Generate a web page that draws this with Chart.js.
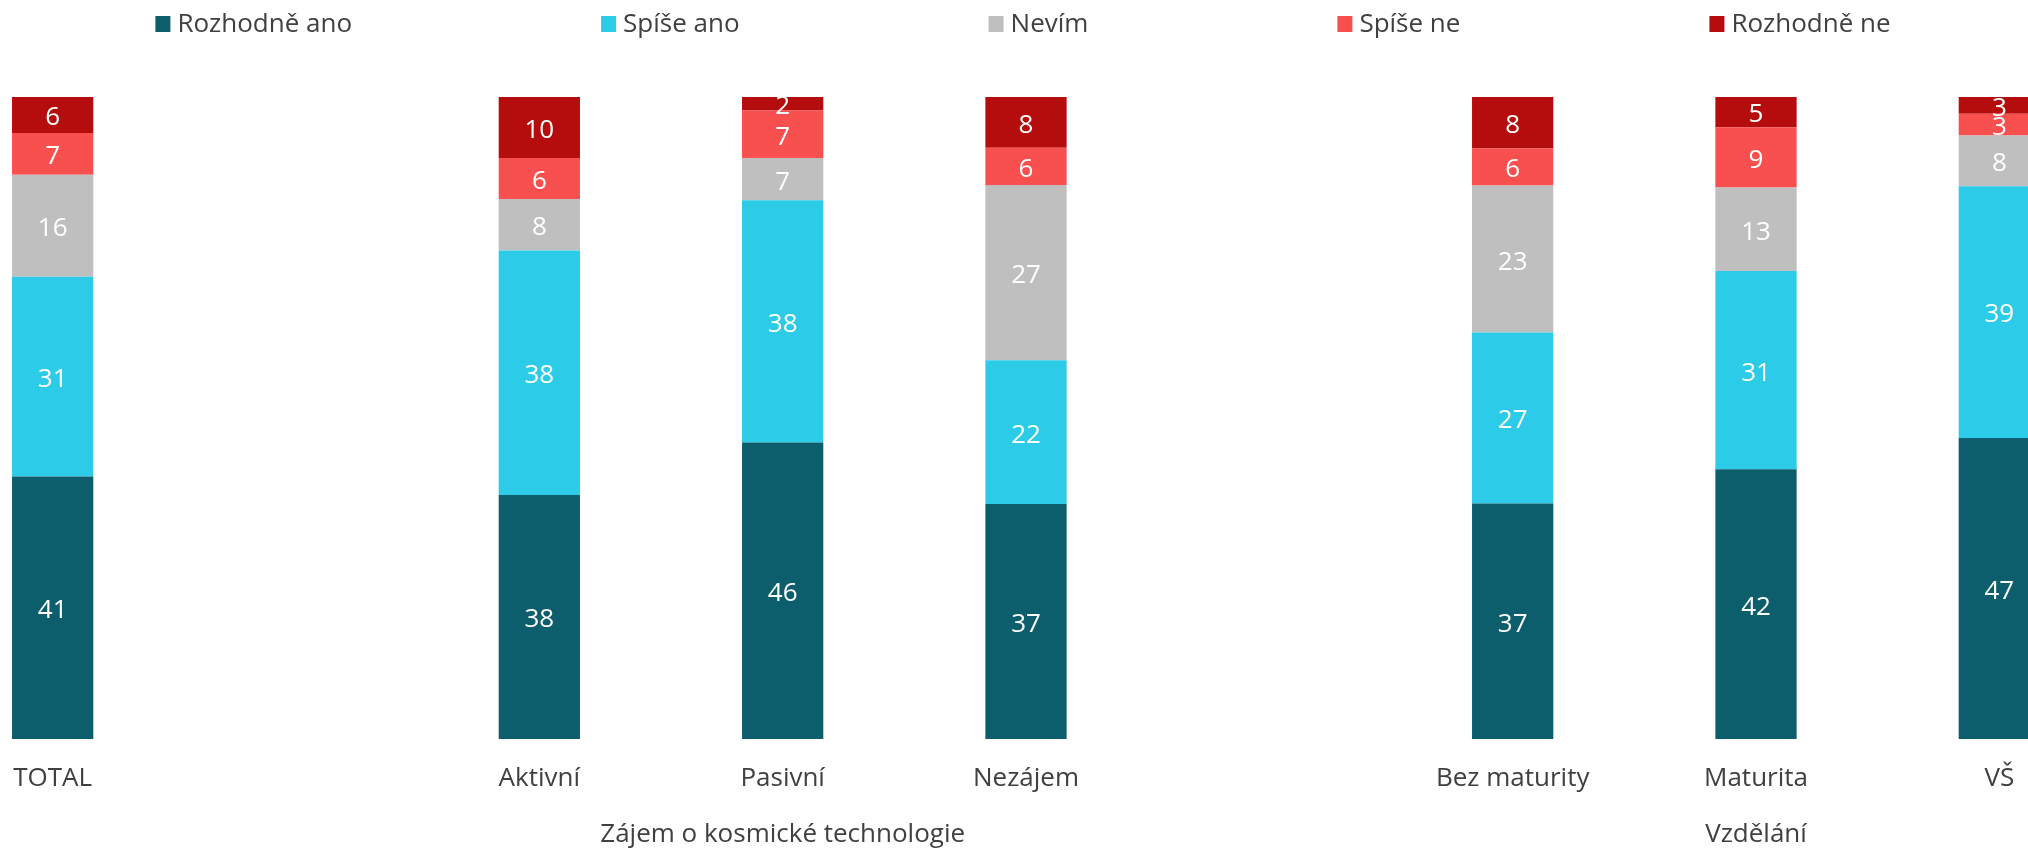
<!DOCTYPE html>
<html><head><meta charset="utf-8">
<script src="https://cdn.jsdelivr.net/npm/chart.js@4.4.1/dist/chart.umd.min.js"></script>
<style>
html,body{margin:0;padding:0;background:#fff;overflow:hidden;width:2028px;height:850px;position:relative}
#wrap{position:absolute;left:-69px;top:0;width:2190px;height:850px}
</style>
</head><body><div id="wrap"><canvas id="c"></canvas></div>
<script>
// ---- data ----
const categories = ['TOTAL', '', 'Aktivní', 'Pasivní', 'Nezájem', '', 'Bez maturity', 'Maturita', 'VŠ'];
const groupTitles = ['', '', '', 'Zájem o kosmické technologie', '', '', '', 'Vzdělání', ''];
const seriesNames = ['Rozhodně ano', 'Spíše ano', 'Nevím', 'Spíše ne', 'Rozhodně ne'];
const rozhodneAno = [40.9, null, 38.0, 46.2, 36.6, null, 36.7, 42.0, 46.9];
const spiseAno    = [31.1, null, 38.1, 37.7, 22.4, null, 26.6, 30.9, 39.2];
const nevim       = [15.9, null,  8.0,  6.6, 27.3, null, 22.9, 13.0,  7.9];
const spiseNe     = [ 6.5, null,  6.4,  7.4,  5.8, null,  5.8,  9.4,  3.4];
const rozhodneNe  = [ 5.6, null,  9.5,  2.1,  7.9, null,  8.0,  4.7,  2.6];
const seriesColors = ['#0C5E6D', '#2CCCE8', '#BFBFBF', '#F84F4F', '#B50D0D'];

const FONT = "'Open Sans', 'Noto Sans', sans-serif";
const TEXT = '#404040';
Chart.defaults.font.family = FONT;

const xLabels = categories.map((c, i) => groupTitles[i] ? [c, '', groupTitles[i]] : c);
const seriesData = [rozhodneAno, spiseAno, nevim, spiseNe, rozhodneNe];

const valueLabels = {
  id: 'valueLabels',
  afterDatasetsDraw(chart) {
    const ctx = chart.ctx;
    ctx.save();
    ctx.font = `26px ${FONT}`;
    ctx.fillStyle = '#FFFFFF';
    ctx.textAlign = 'center';
    ctx.textBaseline = 'middle';
    chart.data.datasets.forEach((ds, i) => {
      const meta = chart.getDatasetMeta(i);
      meta.data.forEach((el, j) => {
        const v = ds.data[j];
        if (v == null) return;
        const p = el.getProps(['x', 'y', 'base'], true);
        ctx.fillText(String(Math.round(v)), p.x, (p.y + p.base) / 2 + 3);
      });
    });
    ctx.restore();
  }
};

const topLegend = {
  id: 'topLegend',
  afterDraw(chart) {
    const ctx = chart.ctx;
    ctx.save();
    ctx.font = `26px ${FONT}`;
    ctx.textBaseline = 'middle';
    ctx.textAlign = 'left';
    const box = 15, gapText = 7, gapItem = 249;
    const items = chart.data.datasets.map(ds => ({label: ds.label, color: ds.backgroundColor, w: box + gapText + ctx.measureText(ds.label).width}));
    const total = items.reduce((s, it) => s + it.w, 0) + gapItem * (items.length - 1);
    const cx = (chart.chartArea.left + chart.chartArea.right) / 2 - 3;
    let x = cx - total / 2;
    const y = 24;
    items.forEach(it => {
      ctx.fillStyle = it.color;
      ctx.fillRect(x, y - 8, box, 16);
      ctx.fillStyle = TEXT;
      ctx.fillText(it.label, x + box + gapText, y + 1);
      x += it.w + gapItem;
    });
    ctx.restore();
  }
};

new Chart(document.getElementById('c'), {
  type: 'bar',
  data: {
    labels: xLabels,
    datasets: seriesNames.map((n, i) => ({
      label: n,
      data: seriesData[i],
      backgroundColor: seriesColors[i],
      borderWidth: 0,
      barPercentage: 0.334,
      categoryPercentage: 1
    }))
  },
  options: {
    responsive: true,
    maintainAspectRatio: false,
    animation: false,
    layout: { padding: { top: 97, left: 0, right: 0, bottom: 0 } },
    plugins: { legend: { display: false }, tooltip: { enabled: false } },
    scales: {
      x: {
        stacked: true,
        grid: { display: false, drawTicks: false },
        border: { display: false },
        ticks: {
          color: TEXT,
          font: { size: 26, lineHeight: '28px' },
          padding: 26,
          autoSkip: false,
          maxRotation: 0,
          minRotation: 0
        },
        afterFit(s) { s.height = 111; }
      },
      y: { stacked: true, display: false, min: 0, max: 100 }
    }
  },
  plugins: [valueLabels, topLegend]
});
</script>
</body></html>
